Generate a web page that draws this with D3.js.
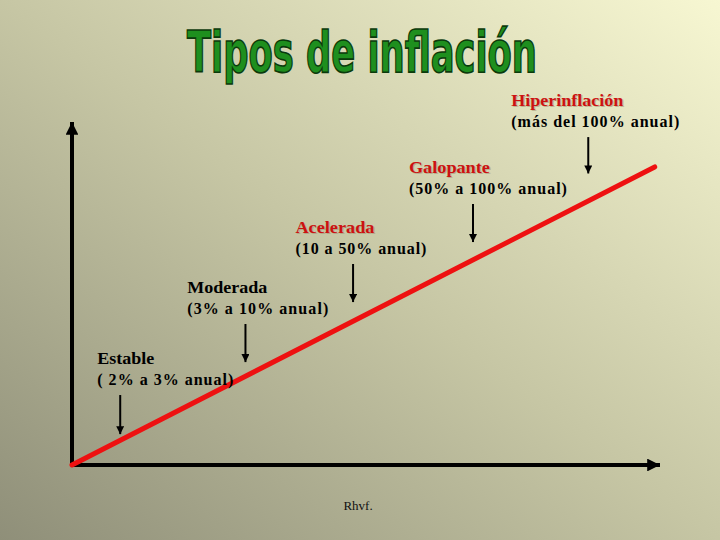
<!DOCTYPE html>
<html><head><meta charset="utf-8">
<script src="https://cdn.jsdelivr.net/npm/d3@7"></script>
<style>body{margin:0;padding:0;overflow:hidden}svg{display:block}</style>
</head><body>
<script>
// ---- data ----
const title = "Tipos de inflación";
const categories = ["Estable", "Moderada", "Acelerada", "Galopante", "Hiperinflación"];
const ranges = ["( 2% a 3% anual)", "(3% a 10% anual)", "(10 a 50% anual)", "(50% a 100% anual)", "(más del 100% anual)"];
const highlighted = [false, false, true, true, true];
const arrowX = [8.2, 29.5, 47.8, 68.2, 87.8];       // position along x (0-100)
const arrowTop = [20.4, 41.1, 58.6, 76.1, 95.6];    // arrow start (0-100 on y)
const arrowBottom = [9.0, 30.0, 47.5, 65.0, 85.0];  // arrow tip
const labelX = [4.3, 19.6, 38.0, 57.3, 74.7];
const linePoints = [[0, 0], [99.1, 86.9]];
const credit = "Rhvf.";

// ---- layout / style ----
const W = 720, H = 540;
const nameWidths = [57, 80, 79, 81, 112];
const rangeWidths = [136, 141, 131, 158, 168];

const svg = d3.select("body").append("svg").attr("width", W).attr("height", H);
const defs = svg.append("defs");
const g = defs.append("linearGradient").attr("id", "bg")
  .attr("x1", "0").attr("y1", "1").attr("x2", "1").attr("y2", "0");
g.append("stop").attr("offset", "0").attr("stop-color", "#8f8f79");
g.append("stop").attr("offset", "0.5").attr("stop-color", "#c6c6a4");
g.append("stop").attr("offset", "1").attr("stop-color", "#f7f7d2");
svg.append("rect").attr("width", W).attr("height", H).attr("fill", "url(#bg)");

const mk = defs.append("marker").attr("id", "ah").attr("viewBox", "0 0 10 10")
  .attr("refX", 10).attr("refY", 5).attr("markerWidth", 3.2).attr("markerHeight", 3.2)
  .attr("markerUnits", "strokeWidth").attr("orient", "auto");
mk.append("path").attr("d", "M0,0L10,5L0,10z").attr("fill", "#000");
const mk2 = defs.append("marker").attr("id", "ah2").attr("viewBox", "0 0 10 10")
  .attr("refX", 10).attr("refY", 5).attr("markerWidth", 5).attr("markerHeight", 4)
  .attr("markerUnits", "strokeWidth").attr("orient", "auto");
mk2.append("path").attr("d", "M0,0L10,5L0,10z").attr("fill", "#000");

const x = d3.scaleLinear().domain([0, 100]).range([72, 660]);
const y = d3.scaleLinear().domain([0, 100]).range([465, 122]);

// title
svg.append("text").attr("x", 362).attr("y", 72).attr("text-anchor", "middle")
  .attr("font-family", "DejaVu Sans Condensed, DejaVu Sans").attr("font-weight", "bold")
  .attr("font-size", 57).attr("textLength", 350).attr("lengthAdjust", "spacingAndGlyphs")
  .attr("fill", "#1e8f1e").attr("stroke", "#0b3a0b").attr("stroke-width", 1.6)
  .text(title);

// axes
svg.append("line").attr("x1", x(0)).attr("y1", y(0)).attr("x2", x(0)).attr("y2", y(100))
  .attr("stroke", "#000").attr("stroke-width", 4).attr("marker-end", "url(#ah)");
svg.append("line").attr("x1", x(0)).attr("y1", y(0)).attr("x2", x(100)).attr("y2", y(0))
  .attr("stroke", "#000").attr("stroke-width", 4).attr("marker-end", "url(#ah)");

// red line
svg.append("path").datum(linePoints)
  .attr("d", d3.line().x(d => x(d[0])).y(d => y(d[1])))
  .attr("stroke", "#ee1111").attr("stroke-width", 5).attr("fill", "none").attr("stroke-linecap", "round");

// arrows
svg.selectAll(".arr").data(categories).enter().append("line")
  .attr("x1", (d, i) => x(arrowX[i])).attr("x2", (d, i) => x(arrowX[i]))
  .attr("y1", (d, i) => y(arrowTop[i])).attr("y2", (d, i) => y(arrowBottom[i]))
  .attr("stroke", "#000").attr("stroke-width", 2).attr("marker-end", "url(#ah2)");

// labels
categories.forEach((name, i) => {
  const lx = x(labelX[i]), ly = y(arrowTop[i]);
  if (highlighted[i]) {
    svg.append("text").attr("x", lx + 1.2).attr("y", ly - 31 + 1.2)
      .attr("font-family", "Liberation Serif").attr("font-weight", "bold").attr("font-size", 16)
      .attr("textLength", nameWidths[i]).attr("lengthAdjust", "spacingAndGlyphs")
      .attr("fill", "#a09070").attr("opacity", 0.55).text(name);
  }
  svg.append("text").attr("x", lx).attr("y", ly - 31)
    .attr("font-family", "Liberation Serif").attr("font-weight", "bold").attr("font-size", 16)
    .attr("textLength", nameWidths[i]).attr("lengthAdjust", "spacingAndGlyphs")
    .attr("fill", highlighted[i] ? "#cc1111" : "#000").text(name);
  svg.append("text").attr("x", lx).attr("y", ly - 10)
    .attr("font-family", "Liberation Serif").attr("font-weight", "bold").attr("font-size", 16)
    .attr("textLength", rangeWidths[i]).attr("lengthAdjust", "spacing")
    .attr("fill", "#000").text(ranges[i]);
});

svg.append("text").attr("x", 358).attr("y", 510).attr("text-anchor", "middle")
  .attr("font-family", "Liberation Serif").attr("font-size", 13).attr("fill", "#111")
  .text(credit);
</script>
</body></html>
